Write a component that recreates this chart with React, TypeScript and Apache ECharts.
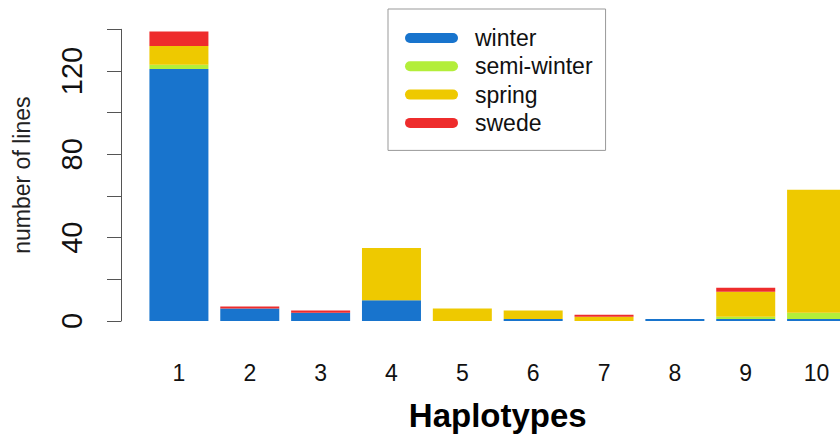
import React, { useEffect, useRef } from "react";
import * as echarts from "echarts";

const categories = ["1", "2", "3", "4", "5", "6", "7", "8", "9", "10"];
const winter = [121, 6, 4, 10, 0, 1, 0, 1, 1, 1];
const semiWinter = [2, 0, 0, 0, 0, 0, 0, 0, 1, 3];
const spring = [9, 0, 0, 25, 6, 4, 2, 0, 12, 59];
const swede = [7, 1, 1, 0, 0, 0, 1, 0, 2, 0];
const yTicks = [0, 40, 80, 120];

const FONT = "Liberation Sans, Arial, Helvetica, sans-serif";

export default function App() {
  const ref = useRef<HTMLDivElement>(null);
  useEffect(() => {
    if (!ref.current) return;
    const chart = echarts.init(ref.current, null, { renderer: "svg" });
    const capsule = "path://M5 0H48A5 5 0 0 1 48 10H5A5 5 0 0 1 5 0Z";
    const mk = (name: string, data: number[], color: string) => ({
      name,
      type: "bar",
      stack: "total",
      data,
      barWidth: 59,
      itemStyle: { color },
      emphasis: { disabled: true },
    });
    chart.setOption({
      animation: false,
      backgroundColor: "#ffffff",
      textStyle: { fontFamily: FONT },
      grid: {
        left: 143.5,
        top: 29.3,
        width: 708.5,
        bottom: 116,
        containLabel: false,
        outerBoundsMode: "none",
      },
      legend: {
        orient: "vertical",
        left: 388,
        top: 9,
        icon: capsule,
        itemWidth: 53,
        itemHeight: 10,
        itemGap: 5.3,
        padding: [17.5, 13, 16, 17],
        borderColor: "#999999",
        borderWidth: 1,
        textStyle: { fontSize: 23, lineHeight: 23, color: "#111111", fontFamily: FONT, padding: [0, 0, 0, 12] },
        data: ["winter", "semi-winter", "spring", "swede"],
      },
      xAxis: {
        type: "category",
        data: categories,
        axisLine: { show: false },
        axisTick: { show: false },
        axisLabel: { fontSize: 23, color: "#111111", margin: 40, fontFamily: FONT },
        name: "Haplotypes",
        nameLocation: "middle",
        nameGap: 78,
        nameTextStyle: { fontSize: 33, fontWeight: "bold", color: "#000000", fontFamily: FONT },
      },
      yAxis: {
        type: "value",
        min: 0,
        max: 140,
        interval: 20,
        offset: 22.5,
        splitLine: { show: false },
        axisLine: { show: true, lineStyle: { color: "#555555", width: 1 } },
        axisTick: { show: true, length: 14, lineStyle: { color: "#555555" } },
        axisLabel: {
          rotate: 90,
          fontSize: 29,
          color: "#111111",
          margin: 35,
          fontFamily: FONT,
          formatter: (v: number) => (yTicks.includes(v) ? String(v) : ""),
        },
        name: "number of lines",
        nameLocation: "middle",
        nameGap: 88,
        nameTextStyle: { fontSize: 23, color: "#222222", fontFamily: FONT },
      },
      series: [
        mk("winter", winter, "#1874CD"),
        mk("semi-winter", semiWinter, "#B3EE3A"),
        mk("spring", spring, "#EEC900"),
        mk("swede", swede, "#EE2C2C"),
      ],
    });
    return () => chart.dispose();
  }, []);
  return <div ref={ref} style={{ width: 840, height: 437, position: "absolute", left: 0, top: 0 }} />;
}
